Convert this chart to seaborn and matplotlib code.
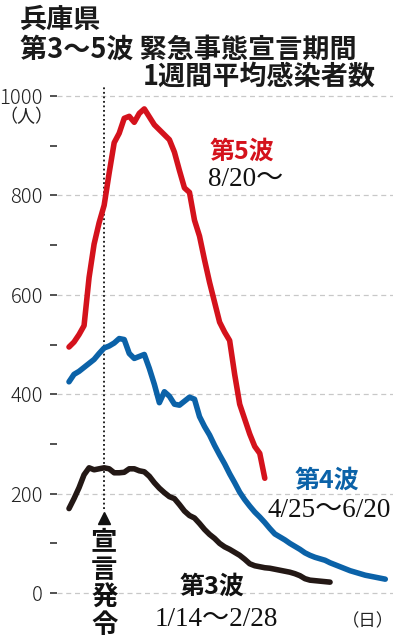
import numpy as np
import pandas as pd
import matplotlib
matplotlib.use("Agg")
import matplotlib.pyplot as plt
from matplotlib.ticker import MultipleLocator
import seaborn as sns

# days counted from the declaration date (day 0)
days3 = list(range(-7, 46))   # 第3波 1/14-2/28
days4 = list(range(-7, 57))   # 第4波 4/25-6/20
days5 = list(range(-7, 33))   # 第5波 8/20-

wave3 = [170, 190, 212, 238, 252, 248, 250, 252, 250, 242, 242, 243, 250, 250,
         246, 244, 235, 222, 211, 202, 194, 190, 178, 165, 156, 151, 140, 128,
         118, 110, 100, 93, 88, 82, 76, 68, 59, 55, 53, 51, 50, 48, 46, 44, 42,
         39, 35, 29, 26, 25, 24, 23, 22]
wave4 = [425, 440, 446, 454, 462, 470, 482, 493, 497, 503, 512, 510, 482, 472,
         476, 480, 452, 420, 383, 405, 396, 380, 378, 386, 394, 390, 355, 335,
         318, 297, 278, 260, 240, 222, 203, 188, 175, 163, 153, 142, 130, 119,
         113, 107, 100, 94, 88, 81, 76, 72, 69, 66, 61, 57, 53, 49, 45, 42, 39,
         36, 34, 32, 30, 28]
wave5 = [495, 505, 520, 538, 635, 702, 745, 780, 845, 906, 925, 955, 959, 947,
         965, 974, 958, 942, 932, 922, 912, 887, 850, 815, 806, 750, 718, 670,
         625, 585, 545, 525, 508, 440, 380, 350, 320, 295, 281, 231]

labels = ["第3波", "第4波", "第5波"]
colors = {"第3波": "#231815", "第4波": "#0b62a8", "第5波": "#d4121c"}

df = pd.concat([
    pd.DataFrame({"day": days3, "cases": wave3, "wave": labels[0]}),
    pd.DataFrame({"day": days4, "cases": wave4, "wave": labels[1]}),
    pd.DataFrame({"day": days5, "cases": wave5, "wave": labels[2]}),
])

sns.set_style("white")
plt.rcParams['font.family'] = ['Noto Sans CJK JP', 'DejaVu Sans']
serif = ['Liberation Serif', 'Noto Sans CJK JP']

fig = plt.figure(figsize=(3.93, 6.4), dpi=100)
ax = fig.add_axes([57 / 393, 0.0267, 1 - 57 / 393, 0.8656 - 0.0267])

sns.lineplot(data=df, x="day", y="cases", hue="wave", palette=colors,
             linewidth=4.0, legend=False, ax=ax, solid_capstyle="round")

ax.set_xlim(-9.39, 57.54)
ax.set_ylim(-60, 1020)
ax.set_xlabel("")
ax.set_ylabel("")
ax.set_xticks([])
ax.yaxis.set_minor_locator(MultipleLocator(100))
ax.set_yticks([0, 200, 400, 600, 800, 1000])
ax.tick_params(axis="y", which="both", length=5, width=1.2, color="#333333",
               pad=5, labelsize=14.5, labelcolor="#222222", left=True)
for lbl in ax.get_yticklabels():
    lbl.set_fontweight("light")
ax.grid(axis="y", which="major", color="#c8c8c8", linestyle=(0, (4, 3)),
        linewidth=0.9)
sns.despine(ax=ax, left=True, bottom=True)

# declaration line
ax.plot([0, 0], [170, 1020], color="#111111", linestyle=(0, (1, 1.5)),
        linewidth=1.3, zorder=1)
ax.plot([0], [152], marker="^", color="#111111", markersize=8, clip_on=False)
ax.text(0, 128, "宣\n言\n発\n令", ha="center", va="top", fontsize=19,
        fontweight="bold", linespacing=1.02, color="#111111", clip_on=False)

# wave labels
ax.text(20.9, 888, "第5波", color=colors["第5波"], fontsize=18,
        fontweight="bold", ha="left", va="center")
ax.text(20.7, 832, "8/20～", family=serif, fontsize=19.5, ha="left",
        va="center", color="#111111")
ax.text(38.0, 227, "第4波", color=colors["第4波"], fontsize=18,
        fontweight="bold", ha="left", va="center")
ax.text(32.6, 167, "4/25～6/20", family=serif, fontsize=19.5, ha="left",
        va="center", color="#111111")
ax.text(15.1, 12, "第3波", color="#111111", fontsize=18,
        fontweight="bold", ha="left", va="center")
ax.text(10.1, -54, "1/14～2/28", family=serif, fontsize=19.5, ha="left",
        va="center", color="#111111", clip_on=False)

fig.text(26 / 393, 1 - 117 / 640, "（人）", ha="center", va="center",
         fontsize=13, color="#222222")
fig.text(368 / 393, 1 - 621 / 640, "（日）", ha="center", va="center",
         fontsize=12.5, color="#222222")

# title
fig.text(20 / 393, 1 - 20 / 640, "兵庫県", fontsize=19.5, fontweight="bold",
         ha="left", va="center", color="#1a1a1a")
fig.text(20 / 393, 1 - 50 / 640, "第3～5波 緊急事態宣言期間", fontsize=19.5,
         fontweight="bold", ha="left", va="center", color="#1a1a1a")
fig.text(376 / 393, 1 - 77 / 640, "1週間平均感染者数", fontsize=19.5,
         fontweight="bold", ha="right", va="center", color="#1a1a1a")

fig.savefig("out.png", dpi=100)
